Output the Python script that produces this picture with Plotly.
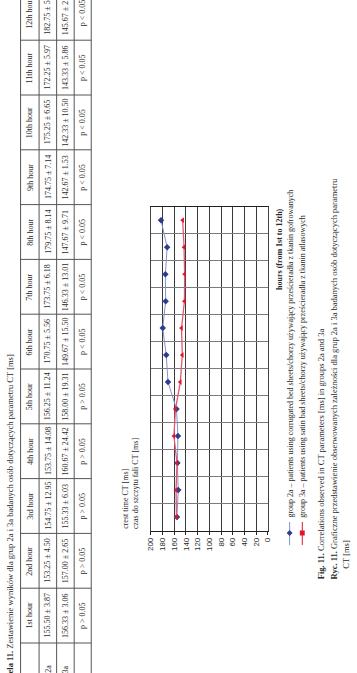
import plotly.graph_objects as go

W, H = 357, 673

# ---------------- data ----------------
hours = ["1st hour", "2nd hour", "3rd hour", "4th hour", "5th hour", "6th hour",
         "7th hour", "8th hour", "9th hour", "10th hour", "11th hour", "12th hour"]
hour_idx = [1, 2, 3, 4, 5, 6, 7, 8, 9, 10, 11, 12]
mean_2a = [155.50, 153.25, 154.75, 153.75, 156.25, 170.75, 173.75, 179.75, 174.75, 175.25, 172.25, 182.75]
sd_2a = [3.87, 4.50, 12.95, 14.08, 11.24, 5.56, 6.18, 8.14, 7.14, 6.65, 5.97, 5.32]
mean_3a = [156.33, 157.00, 155.33, 160.67, 158.00, 149.67, 146.33, 147.67, 142.67, 142.33, 143.33, 145.67]
sd_3a = [3.06, 2.65, 6.03, 24.42, 19.31, 15.50, 13.01, 9.71, 1.53, 10.50, 5.86, 2.52]
p_text = ["p > 0.05", "p > 0.05", "p > 0.05", "p > 0.05", "p > 0.05", "p < 0.05",
          "p < 0.05", "p < 0.05", "p < 0.05", "p < 0.05", "p < 0.05", "p < 0.05"]
group_labels = ["2a", "3a"]
value_ticks = [0, 20, 40, 60, 80, 100, 120, 140, 160, 180, 200]

table_title = "<b>Tabela 11.</b> Zestawienie wyników dla grup 2a i 3a badanych osób dotyczących parametru CT [ms]"
chart_title_en = "crest time CT [ms]"
chart_title_pl = "czas do szczytu fali CT [ms]"
hours_title = "<b>hours (from 1st to 12th)</b>"
legend_2a = "group 2a – patients using corrugated bed sheets/chorzy używający prześcieradła z tkanin gofrowanych"
legend_3a = "group 3a – patients using satin bad sheets/chorzy używający prześcieradła z tkanin atlasowych"
caption_en = "<b>Fig. 11.</b> Correlations observed in CT parameters [ms] in groups 2a and 3a"
caption_pl_1 = "<b>Ryc. 11.</b> Graficzne przedstawienie obserwowanych zależności dla grup 2a i 3a badanych osób dotyczących parametru"
caption_pl_2 = "CT [ms]"

# ---------------- helpers ----------------
def px(x):
    return x / W

def py(y):
    return 1 - y / H

SERIF = "Liberation Serif"
SANS = "Liberation Sans"
TXT = "#2a2a2a"

BLUE_M = "#2d3d8e"
BLUE_L = "#8592c6"
RED_M = "#e0142f"
RED_L = "#e8566f"

fig = go.Figure()

fig.add_trace(go.Scatter(
    x=mean_2a, y=hour_idx, mode="lines+markers",
    line=dict(color=BLUE_L, width=1),
    marker=dict(symbol="diamond", size=5, color=BLUE_M),
    showlegend=False))
fig.add_trace(go.Scatter(
    x=mean_3a, y=hour_idx, mode="lines+markers",
    line=dict(color=RED_L, width=1.3),
    marker=dict(symbol="triangle-left", size=5, color=RED_M),
    showlegend=False))

shapes = []
# legend samples (line + marker), drawn in page pixels
def pt(x, y):
    return f"{px(x):.5f},{py(y):.5f}"

shapes.append(dict(type="line", xref="paper", yref="paper", x0=px(293), x1=px(293),
                   y0=py(522), y1=py(545), line=dict(color=BLUE_L, width=1)))
shapes.append(dict(type="line", xref="paper", yref="paper", x0=px(306), x1=px(306),
                   y0=py(522), y1=py(545), line=dict(color=RED_M, width=1)))
cx, cy = 293, 533
shapes.append(dict(type="path", xref="paper", yref="paper",
                   path=f"M{pt(cx, cy-3)} L{pt(cx+3, cy)} L{pt(cx, cy+3)} L{pt(cx-3, cy)} Z",
                   fillcolor=BLUE_M, line=dict(width=0)))
cx = 306
shapes.append(dict(type="path", xref="paper", yref="paper",
                   path=f"M{pt(cx-2.5, cy-2.5)} L{pt(cx+2.5, cy-2.5)} L{pt(cx+2.5, cy+2.5)} L{pt(cx-2.5, cy+2.5)} Z",
                   fillcolor=RED_M, line=dict(width=0)))

# ---------------- table ----------------
row_x = [17, 36, 54, 72, 89.5]
col_w = 54.8
base = 643
tcol = "#555555"
for xr in row_x:
    shapes.append(dict(type="line", xref="paper", yref="paper", x0=px(xr), x1=px(xr),
                       y0=py(-20), y1=py(690), line=dict(color=tcol, width=1)))
for k in range(0, 12):
    yb = base - col_w * k
    shapes.append(dict(type="line", xref="paper", yref="paper", x0=px(17), x1=px(89.5),
                       y0=py(yb), y1=py(yb), line=dict(color=tcol, width=1)))

ann = []

def rot(text, x, y, yanchor="middle", size=8, font=SERIF, color=TXT):
    ann.append(dict(text=text, x=px(x), y=py(y), xref="paper", yref="paper",
                    xanchor="center", yanchor=yanchor, textangle=-90, showarrow=False,
                    font=dict(family=font, size=size, color=color), borderpad=0))

rot(table_title, 6, 353, yanchor="top", size=8.5)
for i in range(12):
    yc = base - col_w * (i + 0.5)
    rot(hours[i], 26.5, yc, size=8)
    rot(f"{mean_2a[i]:.2f} ± {sd_2a[i]:.2f}", 45, yc, size=8)
    rot(f"{mean_3a[i]:.2f} ± {sd_3a[i]:.2f}", 63, yc, size=8)
    rot(p_text[i], 80.5, yc, size=8)
rot(group_labels[0], 45, 664, yanchor="top", size=8)
rot(group_labels[1], 63, 664, yanchor="top", size=8)

# chart titles and legend / captions
rot(chart_title_en, 124, 530, yanchor="bottom", size=8)
rot(chart_title_pl, 135, 530, yanchor="bottom", size=8)
rot(hours_title, 282, 207, yanchor="top", size=8)
rot(legend_2a, 293, 519, yanchor="bottom", size=8)
rot(legend_3a, 306, 519, yanchor="bottom", size=8)
rot(caption_en, 325, 580, yanchor="bottom", size=8.5)
rot(caption_pl_1, 339, 580, yanchor="bottom", size=8.5)
rot(caption_pl_2, 350, 570, yanchor="bottom", size=8.5)

fig.update_layout(
    width=W, height=H, autosize=False,
    margin=dict(l=0, r=0, t=0, b=0),
    paper_bgcolor="white", plot_bgcolor="white",
    shapes=shapes, annotations=ann,
    xaxis=dict(domain=[px(150.7), px(270.7)], range=[200, 0],
               tickvals=value_ticks, ticktext=[str(v) for v in value_ticks],
               tickangle=-90, ticks="outside", ticklen=3, tickcolor="#222",
               showline=True, linecolor="#222", linewidth=1, mirror=True,
               showgrid=True, gridcolor="#3a3a3a", gridwidth=1, zeroline=False,
               tickfont=dict(family=SANS, size=8, color=TXT)),
    yaxis=dict(domain=[py(530.5), py(206.7)], range=[0.5, 12.5],
               tickvals=[0.5 + i for i in range(13)], showticklabels=False,
               ticks="", showline=True, linecolor="#444", linewidth=1, mirror=True,
               showgrid=True, gridcolor="#7a7a7a", gridwidth=1, zeroline=False),
)

fig.write_html("out.html")
